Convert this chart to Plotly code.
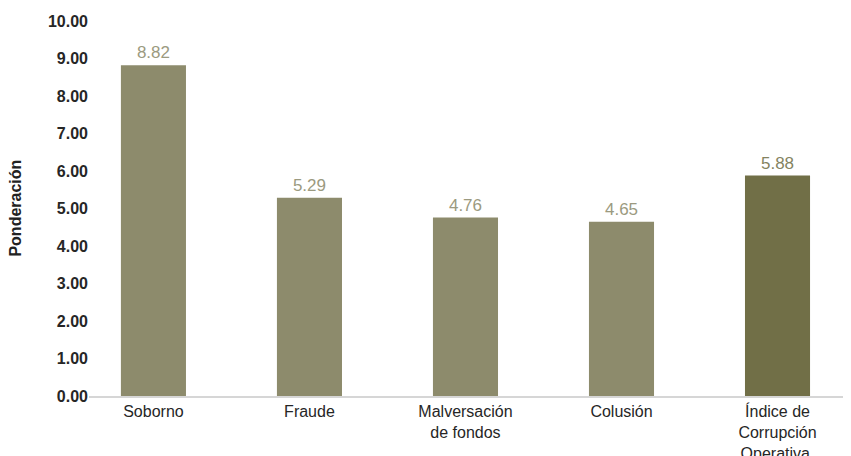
import plotly.graph_objects as go

categories = [
    "Soborno",
    "Fraude",
    "Malversación<br>de fondos",
    "Colusión",
    "Índice de<br>Corrupción<br>Operativa.",
]
ponderacion = [8.82, 5.29, 4.76, 4.65, 5.88]
value_labels = ["8.82", "5.29", "4.76", "4.65", "5.88"]
y_ticks = [0, 1, 2, 3, 4, 5, 6, 7, 8, 9, 10]

bar_colors = ["#8d8b6c", "#8d8b6c", "#8d8b6c", "#8d8b6c", "#716f47"]
label_colors = ["#9b9a80", "#9b9a80", "#9b9a80", "#9b9a80", "#84835f"]

fig = go.Figure()
fig.add_trace(
    go.Bar(
        x=categories,
        y=ponderacion,
        width=0.417,
        marker=dict(color=bar_colors, line=dict(width=0)),
        text=value_labels,
        textposition="outside",
        textfont=dict(size=17, color=label_colors, family="Liberation Sans, Arial, sans-serif"),
        cliponaxis=False,
        hoverinfo="skip",
    )
)

# y title as annotation so it does not push the plot area around
fig.add_annotation(
    text="<b>Ponderación</b>",
    xref="paper",
    yref="paper",
    x=-0.097,
    y=0.5,
    xanchor="center",
    yanchor="middle",
    textangle=-90,
    showarrow=False,
    font=dict(size=16, color="#222222"),
)

# page body has an 8px margin, so the figure is 8px smaller than the window
fig.update_layout(
    width=843,
    height=448,
    margin=dict(l=81, r=0, t=13, b=60),
    paper_bgcolor="white",
    plot_bgcolor="white",
    showlegend=False,
    font=dict(family="Liberation Sans, Arial, sans-serif", color="#222222"),
    xaxis=dict(
        type="category",
        range=[-0.413, 4.471],
        automargin=False,
        showline=True,
        linecolor="#d6d6d6",
        linewidth=1.5,
        showgrid=False,
        ticks="",
        tickfont=dict(size=16, color="#262626"),
    ),
    yaxis=dict(
        range=[0, 10],
        automargin=False,
        tickvals=y_ticks,
        tickformat=".2f",
        showgrid=False,
        zeroline=False,
        showline=False,
        ticks="",
        tickfont=dict(size=16, color="#262626", weight="bold"),
    ),
)

fig.write_html("out.html")
